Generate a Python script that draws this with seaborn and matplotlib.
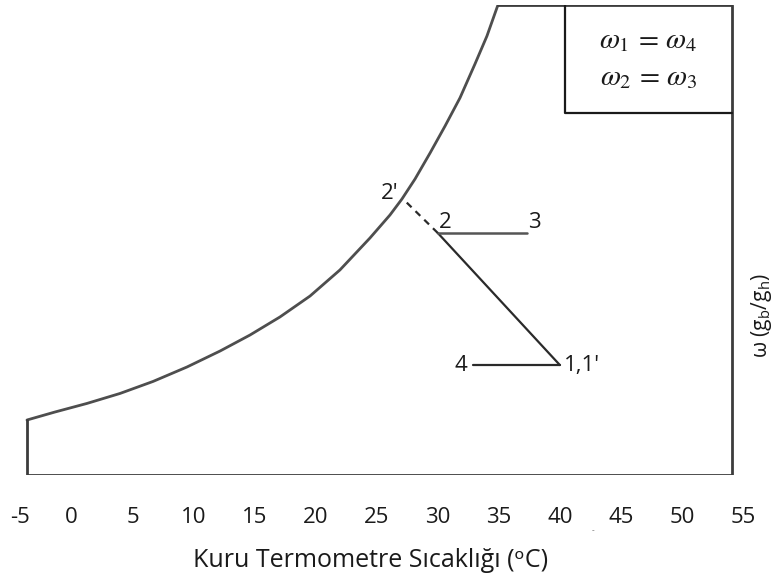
import matplotlib
matplotlib.use("Agg")
import matplotlib.pyplot as plt
import seaborn as sns
import pandas as pd

# Saturation curve (dry-bulb temperature °C, humidity ratio)
sat_T = [-3.64, -1.35, 1.27, 3.98, 6.68, 9.46, 12.17, 14.62, 17.08, 19.54,
         21.99, 24.45, 26.09, 27.07, 28.14, 29.37, 30.60, 31.82, 33.05,
         34.03, 34.93]
sat_w = [4.68, 5.36, 6.09, 6.94, 7.96, 9.19, 10.55, 11.91, 13.45, 15.23,
         17.45, 20.17, 22.13, 23.49, 25.19, 27.40, 29.70, 32.09, 34.98,
         37.36, 40.0]

# Chart boundary
T_min, T_max = -3.64, 54.1
w_top = 40.0

# Process states
state_names = ["1,1'", "2", "2'", "3", "4"]
state_T = [40.0, 30.0, 27.15, 37.3, 32.9]
state_w = [9.36, 20.6, 23.5, 20.6, 9.36]

# Box holding the equalities
box_T = [40.43, 54.1]
box_w = [30.8, 40.0]
box_lines = [r"$\omega_1 \,=\, \omega_4$", r"$\omega_2 \,=\, \omega_3$"]
box_line_w = [37.0, 33.8]

x_ticks = list(range(-5, 60, 5))
x_label = "Kuru Termometre Sıcaklığı (ᵒC)"
y_label = "ω (g$_\\mathrm{b}$/g$_\\mathrm{h}$)"

sns.set_theme(style="white")
plt.rcParams["font.family"] = ["Open Sans", "DejaVu Sans"]
plt.rcParams["mathtext.fontset"] = "custom"
plt.rcParams["mathtext.rm"] = "Open Sans"
plt.rcParams["mathtext.it"] = "Open Sans:italic"

fig = plt.figure(figsize=(7.75, 5.83), dpi=100)
ax = fig.add_axes([0.0134, 0.18525, 0.9453, 0.8062])
ax.set_xlim(-5, 55)
ax.set_ylim(0, 40)

frame_col = "#3c3c3c"
curve_col = "#4e4e4e"
ink = "#1a1a1a"

# Saturation curve
sat = pd.DataFrame({"T": sat_T, "w": sat_w})
sns.lineplot(data=sat, x="T", y="w", sort=False, estimator=None,
             color=curve_col, lw=2.0, ax=ax)

# Outline: left edge, bottom, right edge and top
outline = pd.DataFrame({
    "T": [sat_T[0], T_min, T_max, T_max, sat_T[-1]],
    "w": [sat_w[0], 0, 0, w_top, w_top],
})
sns.lineplot(data=outline, x="T", y="w", sort=False, estimator=None,
             color=frame_col, lw=2.0, ax=ax)

S = dict(zip(state_names, zip(state_T, state_w)))


def segment(a, b, **kw):
    seg = pd.DataFrame({"T": [S[a][0], S[b][0]], "w": [S[a][1], S[b][1]]})
    sns.lineplot(data=seg, x="T", y="w", sort=False, estimator=None, ax=ax, **kw)


# Cooling 1 -> 2, its extension to 2' (dashed), heating 2 -> 3, 4 -> 1
segment("1,1'", "2", color="#2a2a2a", lw=1.6)
segment("2", "2'", color="#2a2a2a", lw=1.6, linestyle=(0, (3, 2.5)))
segment("2", "3", color="#555555", lw=1.8)
segment("4", "1,1'", color="#2a2a2a", lw=1.6)

# State labels
offsets = {"1,1'": (3, -4, "left"), "2": (1, 3.5, "left"), "2'": (-3, 0, "right"),
           "3": (1, 3.5, "left"), "4": (-4, -4, "right")}
for name in state_names:
    dx, dy, ha = offsets[name]
    ax.annotate(name, S[name], xytext=(dx, dy), textcoords="offset points",
                ha=ha, va="baseline", fontsize=16, color=ink)

# Box with equalities
ax.plot([box_T[0], box_T[0], box_T[1]], [box_w[1], box_w[0], box_w[0]],
        color=ink, lw=1.6)
for txt, wv in zip(box_lines, box_line_w):
    ax.text(sum(box_T) / 2, wv, txt, ha="center", va="center",
            fontsize=21, math_fontfamily="stix", color=ink)

# Axes styling
for sp in ax.spines.values():
    sp.set_visible(False)
ax.set_xticks(x_ticks)
ax.set_xticklabels([str(t) for t in x_ticks])
ax.tick_params(axis="x", length=0, pad=23, labelsize=16, labelcolor=ink)
ax.get_xticklabels()[0].set_horizontalalignment("left")
ax.set_yticks([])
ax.set_xlabel("")
ax.set_ylabel("")

ax.text(0.492, -0.1957, x_label, transform=ax.transAxes, ha="center",
        va="baseline", fontsize=18, color=ink)
ax.text(1.0246, 0.34, y_label, transform=ax.transAxes, ha="center",
        va="center", rotation=90, fontsize=15, color=ink)
ax.text(42.7, -0.118, "-", transform=ax.get_xaxis_transform(), ha="center",
        va="center", fontsize=6, color="#555555")

fig.savefig("out.png", dpi=100)
